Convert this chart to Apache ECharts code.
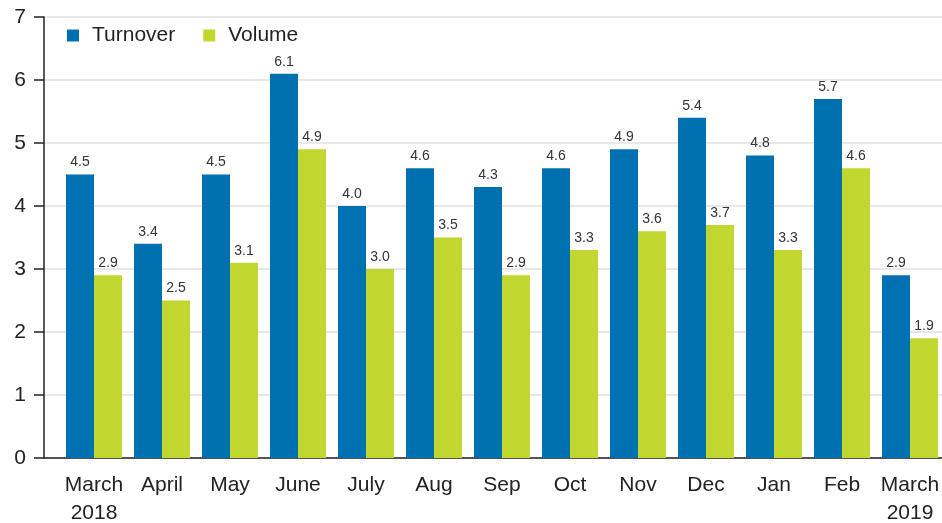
<!DOCTYPE html>
<html>
<head>
<meta charset="utf-8">
<script src="https://cdn.jsdelivr.net/npm/echarts@6/dist/echarts.min.js"></script>
<style>
html, body { margin: 0; padding: 0; background: #fff; }
#main { width: 942px; height: 523px; }
</style>
</head>
<body>
<div id="main"></div>
<script>
var months = ['March\n2018', 'April', 'May', 'June', 'July', 'Aug', 'Sep', 'Oct', 'Nov', 'Dec', 'Jan', 'Feb', 'March\n2019'];
var turnover = [4.5, 3.4, 4.5, 6.1, 4.0, 4.6, 4.3, 4.6, 4.9, 5.4, 4.8, 5.7, 2.9];
var volume = [2.9, 2.5, 3.1, 4.9, 3.0, 3.5, 2.9, 3.3, 3.6, 3.7, 3.3, 4.6, 1.9];

var fontFamily = '"Liberation Sans", Arial, sans-serif';
var myChart = echarts.init(document.getElementById('main'));

var barLabel = {
    show: true,
    position: 'top',
    distance: 5,
    color: '#333',
    fontSize: 14,
    fontFamily: fontFamily,
    formatter: function (p) { return p.value.toFixed(1); }
};

var option = {
    animation: false,
    legend: {
        left: 62,
        top: 20,
        itemWidth: 12,
        itemHeight: 12,
        itemGap: 28,
        icon: 'rect',
        textStyle: { fontSize: 21, color: '#222', fontFamily: fontFamily, padding: [0, 0, 0, 8] },
        data: ['Turnover', 'Volume']
    },
    grid: [
        { left: 44, right: 0, top: 17, bottom: 65, outerBoundsMode: 'none' },
        { left: 60, width: 884, top: 17, bottom: 65, outerBoundsMode: 'none' }
    ],
    xAxis: [{
        type: 'category',
        gridIndex: 0,
        data: [''],
        axisLine: { lineStyle: { color: '#222', width: 1.5 } },
        axisTick: { show: false },
        axisLabel: { show: false }
    }, {
        type: 'category',
        gridIndex: 1,
        data: months,
        axisLine: { show: false },
        axisTick: { show: false },
        axisLabel: {
            color: '#222',
            fontSize: 21,
            fontFamily: fontFamily,
            lineHeight: 28,
            margin: 13,
            interval: 0
        }
    }],
    yAxis: [{
        type: 'value',
        gridIndex: 0,
        min: 0,
        max: 7,
        interval: 1,
        axisLine: { show: true, lineStyle: { color: '#222', width: 1.5 } },
        axisTick: { show: true, length: 10, lineStyle: { color: '#222', width: 1.5 } },
        axisLabel: { color: '#222', fontSize: 21, fontFamily: fontFamily, margin: 18 },
        splitLine: { lineStyle: { color: '#e0e0e0', width: 1.5 } }
    }, {
        type: 'value',
        gridIndex: 1,
        min: 0,
        max: 7,
        interval: 1,
        show: false
    }],
    series: [{
        name: 'Turnover',
        type: 'bar',
        xAxisIndex: 1,
        yAxisIndex: 1,
        data: turnover,
        barWidth: 28,
        barGap: '0%',
        itemStyle: { color: '#0071b0' },
        label: barLabel
    }, {
        name: 'Volume',
        type: 'bar',
        xAxisIndex: 1,
        yAxisIndex: 1,
        data: volume,
        barWidth: 28,
        barGap: '0%',
        itemStyle: { color: '#c1d62e' },
        label: barLabel
    }]
};

myChart.setOption(option);
</script>
</body>
</html>
